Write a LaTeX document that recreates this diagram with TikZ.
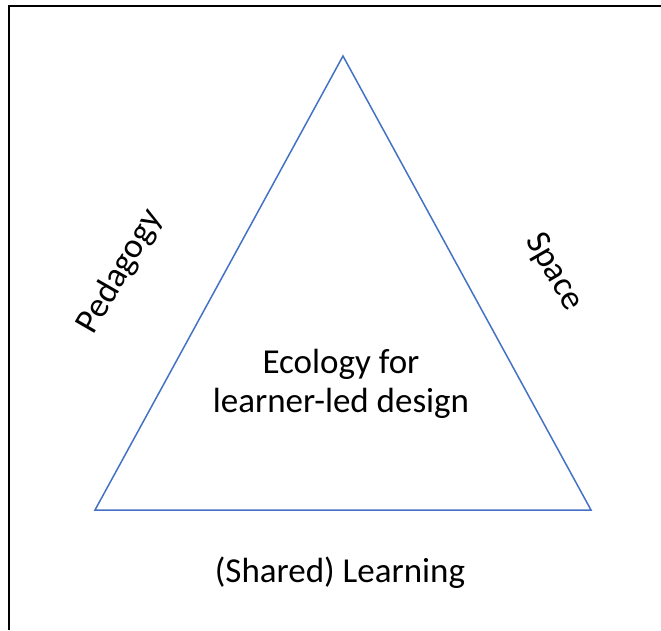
\documentclass[tikz,border=0pt]{standalone}
\usepackage{fontspec}
\setmainfont{Carlito}
\usetikzlibrary{positioning}

\begin{document}
\begin{tikzpicture}[x=1pt,y=-1pt,
    txt/.style={font=\fontsize{35}{39}\selectfont,align=center,inner sep=0pt},
    side/.style={draw={rgb,255:red,68;green,114;blue,196},line width=1.5pt}]
  \useasboundingbox (0,0) rectangle (661,630);
  \draw[line width=2pt] (9,630) -- (9,6) -- (661,6);

  \coordinate (top)   at (343,56);
  \coordinate (left)  at (95,510);
  \coordinate (right) at (591,510);
  \draw[side] (top) -- (right) -- (left) -- cycle;

  \node[txt]               (ecology)  at (341,384) {Ecology for\\learner-led design};
  \node[txt,rotate=60]     (pedagogy) at (120,272) {Pedagogy};
  \node[txt,rotate=-60]    (space)    at (554,272) {Space};
  \node[txt,anchor=base]   (learning) at (340,582) {(Shared) Learning};
\end{tikzpicture}
\end{document}
